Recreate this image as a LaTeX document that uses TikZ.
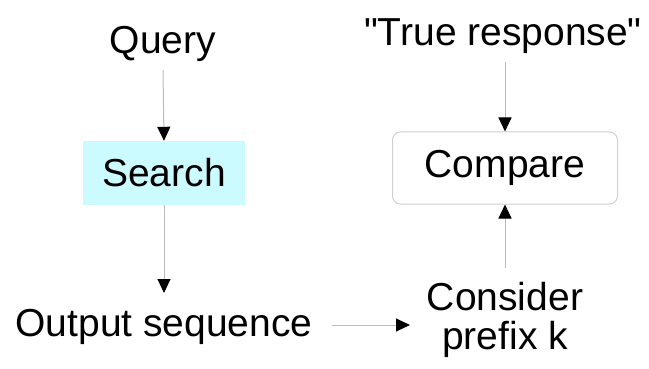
\documentclass[tikz,border=0pt]{standalone}
\usepackage{fontspec}
\setmainfont{Liberation Sans}[Ligatures=TeXOff]
\usetikzlibrary{arrows.meta}
\definecolor{cyanfill}{HTML}{CCFBFF}
\definecolor{linegray}{HTML}{BBBBBB}
\definecolor{boxgray}{HTML}{D0D0D0}
\tikzset{
  lbl/.style={font=\fontsize{39}{40}\selectfont, inner sep=0pt, align=center},
  conn/.style={draw=linegray, line width=1pt, -{Triangle[length=14pt,width=13pt,color=black]}},
}
\begin{document}
\begin{tikzpicture}[x=1pt,y=-1pt]
\useasboundingbox (0,0) rectangle (649,369);
\node[lbl] (query) at (163,44) {Query};
\node[lbl, fill=cyanfill, minimum width=162pt, minimum height=64pt] (search) at (164,173) {Search};
\node[lbl] (output) at (164,327) {Output sequence};
\node[lbl] (true) at (503,36) {"True response"};
\node[lbl, draw=boxgray, line width=1pt, rounded corners=8pt, minimum width=225pt, minimum height=72pt] (compare) at (505,168) {Compare};
\node[lbl, font=\fontsize{39}{39}\selectfont] (consider) at (505,320) {Consider\\prefix k};
\coordinate (q1) at (163,70);
\coordinate (t1) at (505,62);
\coordinate (c1) at (505,268);
\coordinate (s1) at (164,293);
\coordinate (o1) at (332,325);
\coordinate (k1) at (410,325);
\draw[conn] (q1) -- (search.north);
\draw[conn] (search.south) -- (s1);
\draw[conn] (o1) -- (k1);
\draw[conn] (t1) -- (compare.north);
\draw[conn] (c1) -- (compare.south);
\end{tikzpicture}
\end{document}
